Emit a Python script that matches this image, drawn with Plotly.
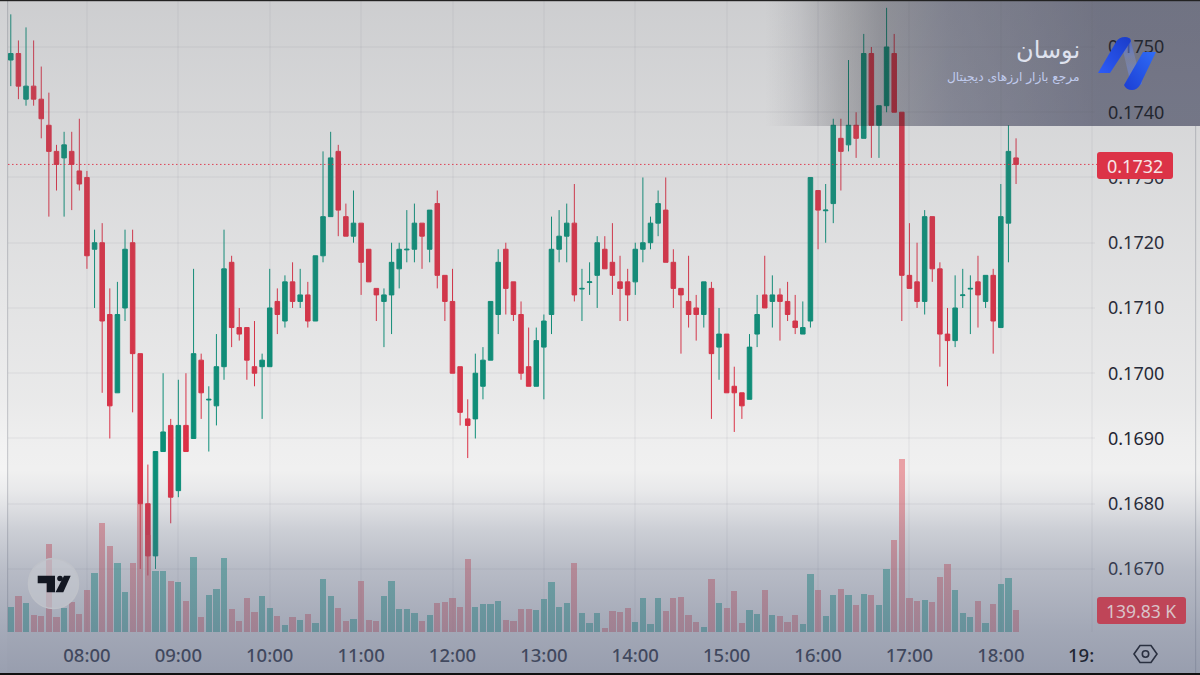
import base64
import pandas as pd
import plotly.graph_objects as go

times = pd.date_range("2024-01-01 07:10", periods=133, freq="5min")

opens = [
 .1748,.1749,.1742,.1744,.1742,.1738,.1734,.1733,.1734,.1731,
 .1730,.1719,.1720,.1709,.1697,.1710,.1720,.1703,.1680,.1672,
 .1688,.1692,.1682,.1692,.1690,.1702,.16959,.1695,.1701,.1717,
 .1707,.1707,.1701,.1701,.1701,.1711,.1708,.1714,.1711,.1712,
 .1708,.1718,.1724,.1734,.1724,.1721,.1723,.1719,.1713,.1711,
 .1712,.1716,.17189,.1719,.1723,.1719,.1726,.1715,.1711,.1701,
 .1693,.1693,.1698,.1702,.1709,.1719,.1714,.1709,.1701,.1698,
 .1704,.1709,.1719,.1721,.1723,.17129,.17139,.1715,.1719,.1717,
 .1714,.1714,.1714,.1719,.1720,.1723,.1725,.1717,.1713,.1711,
 .1710,.1709,.1713,.1704,.1706,.1698,.1697,.1696,.1706,.1712,
 .1711,.1712,.1711,.1708,.1706,.1708,.1728,.17249,.1726,.1736,
 .1735,.1738,.1736,.1749,.1738,.1741,.1749,.1740,.1715,.1714,
 .1711,.1724,.1716,.1706,.1705,.17119,.17129,.1714,.1711,.1715,
 .1707,.1723,.1733]
closes = [
 .1749,.1744,.1744,.1742,.1739,.1734,.1732,.1735,.1732,.1729,
 .1718,.1720,.1708,.1695,.1709,.1719,.1703,.1680,.1672,.1688,
 .1691,.1681,.1692,.1688,.1703,.1697,.1696,.1701,.1716,.1707,
 .1706,.1702,.1700,.1702,.1710,.1709,.1714,.1711,.1712,.1708,
 .1718,.1724,.1733,.1725,.1721,.1723,.1717,.1714,.1712,.1712,
 .1717,.1719,.1719,.1723,.1721,.1725,.1715,.1711,.1700,.1694,
 .1692,.1700,.1702,.1711,.1717,.1713,.1709,.1700,.1698,.1705,
 .1708,.1719,.1721,.1723,.1712,.1713,.1714,.1720,.1716,.1715,
 .1713,.1712,.1719,.1720,.1723,.1726,.1717,.1713,.1712,.1709,
 .1709,.1714,.1703,.1706,.1697,.1697,.1695,.1704,.1709,.1710,
 .1712,.1711,.1709,.1707,.1707,.1730,.1725,.1725,.1738,.1734,
 .1738,.1736,.1749,.1738,.1741,.1750,.1740,.1715,.1713,.1711,
 .1724,.1716,.1706,.1705,.1710,.1712,.1713,.1712,.1715,.1708,
 .1724,.1734,.1732]
highs = [
 .1755,.1751,.1753,.1751,.1747,.1743,.1735,.1737,.1737,.1739,
 .1731,.1722,.1723,.1713,.1714,.1722,.1722,.1703,.1686,.1688,
 .1700,.1693,.1699,.1700,.1716,.1703,.1698,.1706,.1722,.1718,
 .1710,.1707,.1708,.1703,.1716,.1713,.1715,.1717,.1716,.1714,
 .1718,.1734,.1737,.1735,.1726,.1728,.1723,.1719,.1713,.1713,
 .1720,.1720,.1725,.1726,.1723,.1725,.1728,.1715,.1716,.1701,
 .1696,.1703,.1704,.1711,.1719,.1720,.1714,.1711,.1707,.1707,
 .1709,.1724,.1725,.1726,.1729,.1716,.1717,.1721,.1721,.1723,
 .1718,.1716,.1720,.1730,.1724,.1728,.1730,.1719,.1713,.1718,
 .1712,.1714,.1714,.1710,.1706,.1701,.1697,.1706,.1712,.1718,
 .1715,.1713,.1714,.1712,.1711,.1730,.1728,.1729,.1739,.1739,
 .1748,.1740,.1752,.1750,.1741,.1756,.1752,.1740,.1723,.1720,
 .1725,.1724,.1717,.1710,.1715,.1716,.1715,.1718,.1715,.1716,
 .1729,.1738,.1736]
lows = [
 .1744,.1742,.1741,.1741,.1736,.1724,.1728,.1724,.1725,.1728,
 .1716,.1710,.1697,.1690,.1697,.1708,.1694,.1670,.1669,.1670,
 .1688,.1677,.1681,.1688,.1690,.1693,.1688,.1692,.1699,.1704,
 .1705,.1699,.1698,.1693,.1701,.1706,.1707,.1710,.1710,.1707,
 .1708,.1717,.1724,.1721,.1721,.1720,.1712,.1714,.1708,.1704,
 .1706,.1713,.1717,.1717,.1716,.1717,.1713,.1708,.1700,.1692,
 .1687,.1690,.1696,.1702,.1706,.1709,.1708,.1699,.1698,.1698,
 .1696,.1706,.1717,.1717,.1711,.1708,.1712,.1710,.1716,.1712,
 .1708,.1708,.1712,.1717,.1719,.1721,.1717,.1710,.1703,.1707,
 .1705,.1707,.1693,.1699,.1697,.1691,.1693,.1696,.1704,.1710,
 .1707,.1705,.1708,.1706,.1706,.1707,.1719,.1720,.1723,.1728,
 .1734,.1733,.1736,.1733,.1733,.1740,.1740,.1708,.1713,.1710,
 .1709,.1714,.1701,.1698,.1704,.1710,.1706,.1707,.1710,.1703,
 .1707,.1717,.1729]
volumes_k = [
 159,229,184,108,102,559,95,153,191,114,
 267,375,693,547,439,254,439,814,617,388,
 388,324,318,197,477,95,235,273,470,146,
 70,216,127,229,153,102,44,95,76,114,
 57,337,229,153,70,83,324,76,70,229,
 324,146,146,121,70,108,184,191,216,159,
 464,159,178,178,197,76,70,146,146,140,
 210,318,159,184,439,121,57,121,25,133,
 127,153,64,216,51,216,133,216,222,108,
 64,32,337,184,153,261,57,140,114,267,
 108,102,64,108,51,369,267,102,235,273,
 235,172,242,235,172,400,585,1100,216,197,
 203,191,350,432,267,121,95,197,57,178,
 305,343,139.83]

hour_ticks = ["2024-01-01 %02d:00" % h for h in range(8, 20)]
hour_labels = ["08:00","09:00","10:00","11:00","12:00","13:00","14:00","15:00","16:00","17:00","18:00",""]
last_price = 0.1732

GREEN = "#0a8f78"
RED = "#dd3146"
VOL_UP = "rgba(8,150,130,0.52)"
VOL_DOWN = "rgba(226,70,80,0.47)"
GRID = "rgba(140,145,155,0.08)"
TEXT = "#1f2633"

W, H = 1200, 675

def uri(svg):
    return "data:image/svg+xml;base64," + base64.b64encode(svg.encode()).decode()

def stops(items):
    out = ""
    for off, col, op in items:
        out += f'<stop offset="{off:.4f}" stop-color="{col}" stop-opacity="{op}"/>'
    return out

panel = stops([(0,"#f0f0f0",0),(35/435,"#ececee",1),(85/435,"#e2e2e6",1),(185/435,"#c6c9de",1),(335/435,"#abaec8",1),(1,"#abaec8",1)])
below_svg = f'''<svg xmlns="http://www.w3.org/2000/svg" width="{W}" height="{H}" viewBox="0 0 {W} {H}" preserveAspectRatio="none">
<defs><linearGradient id="p" x1="0" x2="1" y1="0" y2="0">{panel}</linearGradient></defs>
<rect width="{W}" height="{H}" fill="#f0f0f0"/>
<rect x="765" y="0" width="435" height="126" fill="url(#p)"/>
<rect x="0" y="0" width="7" height="{H}" fill="#f4f4f4"/>
<rect x="7" y="0" width="1.2" height="632" fill="#c9cace"/>
<rect x="1195" y="126" width="1.2" height="{H-126}" fill="#c9cace"/>
</svg>'''

vtop = [(0,.26),(100,.20),(200,.15),(300,.10),(400,.05),(445,.01),(470,0)]
vbot = [(470,0),(490,.05),(510,.14),(530,.24),(570,.38),(632,.52),(675,.59)]
vert = "".join(f'<stop offset="{y/H:.4f}" stop-color="#6a6d75" stop-opacity="{a}"/>' for y, a in vtop)
vert2 = "".join(f'<stop offset="{y/H:.4f}" stop-color="#5a6480" stop-opacity="{a}"/>' for y, a in vbot)
dark = stops([(0,"#000",0),(35/435,"#000",.06),(75/435,"#000",.16),(115/435,"#000",.24),(185/435,"#000",.27),(1,"#000",.27)])
above_svg = f'''<svg xmlns="http://www.w3.org/2000/svg" width="{W}" height="{H}" viewBox="0 0 {W} {H}" preserveAspectRatio="none">
<defs>
<linearGradient id="v" x1="0" x2="0" y1="0" y2="1">{vert}</linearGradient>
<linearGradient id="w" x1="0" x2="0" y1="0" y2="1">{vert2}</linearGradient>
<linearGradient id="d" x1="0" x2="1" y1="0" y2="0">{dark}</linearGradient>
<linearGradient id="l1" x1="0" x2="1" y1="1" y2="0"><stop offset="0" stop-color="#2d5cf8"/><stop offset="1" stop-color="#1a3cc8"/></linearGradient>
<linearGradient id="l2" x1="1" x2="0" y1="0" y2="1"><stop offset="0" stop-color="#2f6cf6"/><stop offset="1" stop-color="#1c3ed4"/></linearGradient>
<linearGradient id="l3" x1="0" x2="0" y1="0" y2="1"><stop offset="0" stop-color="#2f55e0" stop-opacity=".8"/><stop offset=".45" stop-color="#8ea6ec" stop-opacity=".25"/><stop offset="1" stop-color="#3f66e8" stop-opacity=".85"/></linearGradient>
</defs>
<rect width="{W}" height="{H}" fill="url(#v)"/>
<rect width="{W}" height="{H}" fill="url(#w)"/>
<rect x="765" y="0" width="435" height="126" fill="url(#d)"/>
<path d="M1120,38 L1130,38 L1142,84 L1132,89 Z" fill="url(#l3)"/>
<path d="M1098,73 L1116,42 Q1119,37 1125,37 Q1130,37 1131,41 L1110,73Z" fill="url(#l1)"/>
<path d="M1156,52 L1143,52 L1124,85 Q1126,90 1132,90 Q1137,90 1140,85Z" fill="url(#l2)"/>
<rect x="1097" y="152" width="76" height="27" rx="3" fill="#dc3347"/>
<rect x="1097" y="597" width="89" height="27" rx="3" fill="#bf4558"/>
<circle cx="53.5" cy="583.5" r="25" fill="#c6c9d0" fill-opacity=".6" stroke="#bfc2c9" stroke-width="1.5"/>
<path d="M37.7,575.7 H55 V592.3 H46.7 V583.3 H37.7Z" fill="#131722"/>
<circle cx="60" cy="578.5" r="2.8" fill="#131722"/>
<path d="M64,575.7 H70.7 L63.3,592.3 H55.5Z" fill="#131722"/>
<path d="M1134,654 L1140,645.5 H1151 L1157,654 L1151,662.5 H1140Z" fill="none" stroke="#2a3040" stroke-width="1.6"/>
<circle cx="1145.5" cy="654" r="3.2" fill="none" stroke="#2a3040" stroke-width="1.6"/>
<rect x="0" y="0" width="{W}" height="1.2" fill="#222"/>
<rect x="0" y="673" width="{W}" height="2" fill="#111"/>
</svg>'''

fig = go.Figure()
fig.add_trace(go.Bar(
    x=times, y=volumes_k, yaxis="y2", width=244000,
    marker=dict(color=[VOL_UP if c >= o else VOL_DOWN for o, c in zip(opens, closes)], line_width=0),
    hoverinfo="skip"))
fig.add_trace(go.Candlestick(
    x=times, open=opens, high=highs, low=lows, close=closes,
    whiskerwidth=0,
    increasing=dict(line=dict(color=GREEN, width=1), fillcolor=GREEN),
    decreasing=dict(line=dict(color=RED, width=1), fillcolor=RED)))

def px(x): return x / W
def py(y): return 1 - y / H

def label(x, y, text, size, color, anchor="center", family="Noto Sans", weight=None):
    font = dict(size=size, color=color, family=family)
    if weight: font["weight"] = weight
    return dict(xref="paper", yref="paper", x=px(x), y=py(y), text=text, showarrow=False,
                xanchor=anchor, yanchor="middle", font=font)

fig.update_layout(
    width=W, height=H, margin=dict(l=0, r=0, t=0, b=0, pad=0),
    paper_bgcolor="rgba(0,0,0,0)", plot_bgcolor="rgba(0,0,0,0)",
    showlegend=False, boxgap=0.15, bargap=0,
    xaxis=dict(domain=[px(8), px(1095)], type="date",
               range=["2024-01-01 07:08:10", "2024-01-01 19:01:50"],
               rangeslider=dict(visible=False),
               tickmode="array", tickvals=hour_ticks, ticktext=hour_labels,
               showgrid=True, gridcolor=GRID, gridwidth=1.5, zeroline=False, showline=False,
               ticks="", ticklabelstandoff=10,
               tickfont=dict(family="Noto Sans", size=18.5, color=TEXT, weight=500)),
    yaxis=dict(domain=[43 / H, 1], side="right", range=[0.166034, 0.175720],
               dtick=0.001, tick0=0.17, tickformat=".4f",
               showgrid=True, gridcolor=GRID, gridwidth=1.5, zeroline=False, showline=False,
               ticks="", ticklabelstandoff=12,
               tickfont=dict(family="Noto Sans", size=18, color=TEXT)),
    yaxis2=dict(domain=[43 / H, 1], overlaying="y", side="left", range=[0, 4010],
                visible=False, showgrid=False),
    images=[
        dict(source=uri(below_svg), xref="paper", yref="paper", x=0, y=1, sizex=1, sizey=1,
             xanchor="left", yanchor="top", sizing="stretch", layer="below"),
        dict(source=uri(above_svg), xref="paper", yref="paper", x=0, y=1, sizex=1, sizey=1,
             xanchor="left", yanchor="top", sizing="stretch", layer="above"),
    ],
    shapes=[dict(type="line", xref="paper", yref="y", x0=px(8), x1=px(1097), y0=last_price, y1=last_price,
                 line=dict(color="rgba(221,49,70,0.9)", width=1, dash="1.5px,2.5px"), layer="above")],
    annotations=[
        label(1135, 166, "0.1732", 18, "#f6e4e6"),
        label(1141, 611, "139.83 K", 17.5, "#d9c3c9"),
        label(1081, 654.5, "19:", 18.5, TEXT, weight=500),
        label(1082, 50, "نوسان", 24, "#dfe2ee", "right", "DejaVu Sans"),
        label(1082, 77, "مرجع بازار ارزهای دیجیتال", 12.2, "#c0cbee", "right", "DejaVu Sans"),
    ],
)

fig.write_html("out.html", config=dict(displayModeBar=False),
               post_script="document.body.style.margin='0';document.body.style.overflow='hidden';")
